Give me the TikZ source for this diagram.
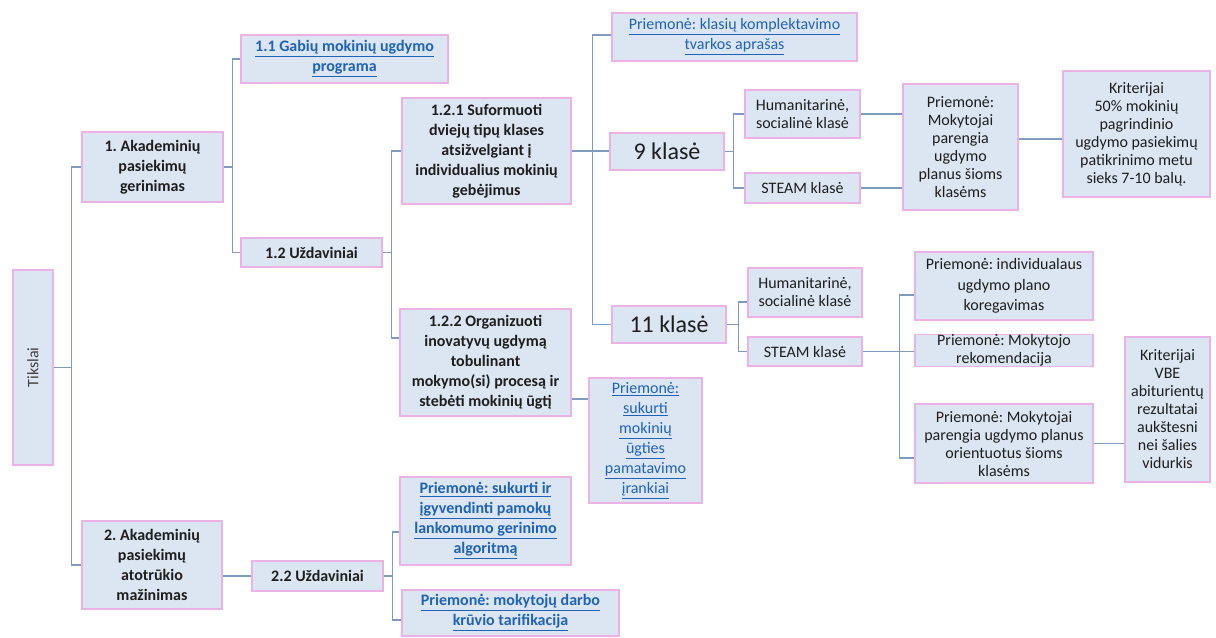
\documentclass[tikz,border=0pt]{standalone}
\usepackage{fontspec}
\setmainfont{Carlito}
\frenchspacing
\definecolor{boxfill}{HTML}{DCE6F2}
\definecolor{boxline}{HTML}{EBB2E6}
\definecolor{wirec}{HTML}{7F9CBF}
\definecolor{linkc}{HTML}{1F63B8}
\definecolor{txt}{HTML}{1E1E1E}
\newcommand\lk[1]{\underline{#1}}
\newcommand\bx[7][]{%
  \pgfmathsetmacro\bxcx{(#3+#5)/2}\pgfmathsetmacro\bxcy{(#4+#6)/2}%
  \pgfmathsetmacro\bxw{(#5-#3)*0.75}\pgfmathsetmacro\bxh{(#6-#4)*0.75}%
  \node[box,minimum width=\bxw pt,minimum height=\bxh pt,#1] (#2) at (\bxcx,\bxcy) {#7};}
\tikzset{
  box/.style={draw=boxline, fill=boxfill, line width=1pt, inner sep=0pt, align=center, text=txt, font=\fontsize{12}{13.5}\selectfont},
  bbox/.style={font=\bfseries\fontsize{12}{15}\selectfont},
  lbox/.style={text=linkc, font=\fontsize{12}{15}\selectfont},
  lbbox/.style={text=linkc, font=\bfseries\fontsize{12}{15}\selectfont},
  bigt/.style={font=\fontsize{18}{20}\selectfont},
  wire/.style={draw=wirec, line width=1pt},
}
\begin{document}
\begin{tikzpicture}[x=0.75pt,y=-0.75pt]
\useasboundingbox (0,0) rectangle (1216,637);
% boxes
\bx{T}{13}{270}{53}{465}{}
\node[rotate=90, text=txt!85, font=\fontsize{12}{13.5}\selectfont] (Tl) at (T) {Tikslai};
\bx[bbox]{A1}{82}{132}{223}{202}{1. Akademinių\\pasiekimų\\gerinimas}
\bx[bbox]{A2}{82}{521}{222}{609}{2. Akademinių\\pasiekimų\\atotrūkio\\mažinimas}
\bx[lbbox]{P11}{241}{35}{448}{83}{\lk{1.1 Gabių mokinių ugdymo}\\\lk{programa}}
\bx[bbox]{U12}{241}{238}{382}{267}{1.2 Uždaviniai}
\bx[bbox]{U22}{252}{561}{383}{591}{2.2 Uždaviniai}
\bx[bbox]{S121}{402}{98}{571}{204}{1.2.1 Suformuoti\\dviejų tipų klases\\atsižvelgiant į\\individualius mokinių\\gebėjimus}
\bx[bbox]{S122}{400}{309}{571}{416}{1.2.2 Organizuoti\\inovatyvų ugdymą\\tobulinant\\mokymo(si) procesą ir\\stebėti mokinių ūgtį}
\bx[lbox]{M122}{589}{378}{702}{503}{\lk{Priemonė:}\\\lk{sukurti}\\\lk{mokinių}\\\lk{ūgties}\\\lk{pamatavimo}\\\lk{įrankiai}}
\bx[lbbox]{P2a}{400}{477}{571}{565}{\lk{Priemonė: sukurti ir}\\\lk{įgyvendinti pamokų}\\\lk{lankomumo gerinimo}\\\lk{algoritmą}}
\bx[lbbox]{P2b}{402}{590}{619}{636}{\lk{Priemonė: mokytojų darbo}\\\lk{krūvio tarifikacija}}
\bx[lbox]{PK}{612}{13}{857}{61}{\lk{Priemonė: klasių komplektavimo}\\\lk{tvarkos aprašas}}
\bx[bigt]{K9}{610}{133}{724}{170}{9 klasė}
\bx[bigt]{K11}{612}{306}{726}{343}{11 klasė}
\bx{H9}{745}{90}{860}{138}{Humanitarinė,\\socialinė klasė}
\bx{S9}{745}{173}{860}{203}{STEAM klasė}
\bx{H11}{748}{268}{862}{317}{Humanitarinė,\\socialinė klasė}
\bx{S11}{748}{337}{862}{366}{STEAM klasė}
\bx{PM9}{903}{84}{1018}{210}{Priemonė:\\Mokytojai\\parengia\\ugdymo\\planus šioms\\klasėms}
\bx{KR9}{1063}{71}{1210}{197}{Kriterijai\\50\% mokinių\\pagrindinio\\ugdymo pasiekimų\\patikrinimo metu\\sieks 7-10 balų.}
\bx[font=\fontsize{12}{15.5}\selectfont]{PI}{915}{252}{1093}{320}{Priemonė: individualaus\\ugdymo plano\\koregavimas}
\bx{PMr}{915}{336}{1093}{365}{Priemonė: Mokytojo\\rekomendacija}
\bx{PMp}{915}{404}{1093}{483}{Priemonė: Mokytojai\\parengia ugdymo planus\\orientuotus šioms\\klasėms}
\bx{KR11}{1125}{337}{1210}{482}{Kriterijai\\VBE\\abiturientų\\rezultatai\\aukštesni\\nei šalies\\vidurkis}
% connectors
\draw[wire] (T.east) -- ++(18,0) coordinate (f0);
\draw[wire] (A1.west) -| (f0) |- (A2.west);
\draw[wire] (A1.east) -- ++(9,0) coordinate (f1);
\draw[wire] (P11.west) -| (f1) |- (U12.west);
\draw[wire] (U12.east) -- ++(9,0) coordinate (f2);
\draw[wire] (S121.west) -| (f2) |- (S122.west |- 0,338);
\draw[wire] (S121.east) -- ++(21,0) coordinate (f3);
\draw[wire] (PK.west |- 0,35) -| (f3) |- (K11.west);
\draw[wire] (f3) -- (K9.west |- f3);
\draw[wire] (K9.east) -- ++(9,0) coordinate (f4);
\draw[wire] (H9.west) -| (f4) |- (S9.west);
\draw[wire] (H9.east) -- (H9.east -| PM9.west);
\draw[wire] (S9.east) -- (S9.east -| PM9.west);
\draw[wire] (PM9.east |- 0,139) -- (KR9.west |- 0,139);
\draw[wire] (K11.east) -- ++(12,0) coordinate (f5);
\draw[wire] (H11.west |- 0,302) -| (f5) |- (S11.west);
\draw[wire] (S11.east) -- ++(37,0) coordinate (f6);
\draw[wire] (PI.west |- 0,295) -| (f6) |- (PMp.west |- 0,458);
\draw[wire] (f6) -- (PMr.west |- f6);
\draw[wire] (PMp.east) -- (PMp.east -| KR11.west);
\draw[wire] (S122.east |- 0,399) -- (M122.west |- 0,399);
\draw[wire] (U22.west) -- (U22.west -| A2.east);
\draw[wire] (U22.east) -- ++(9,0) coordinate (f7);
\draw[wire] (P2a.west |- 0,532) -| (f7) |- (P2b.west |- 0,620);
\end{tikzpicture}
\end{document}
